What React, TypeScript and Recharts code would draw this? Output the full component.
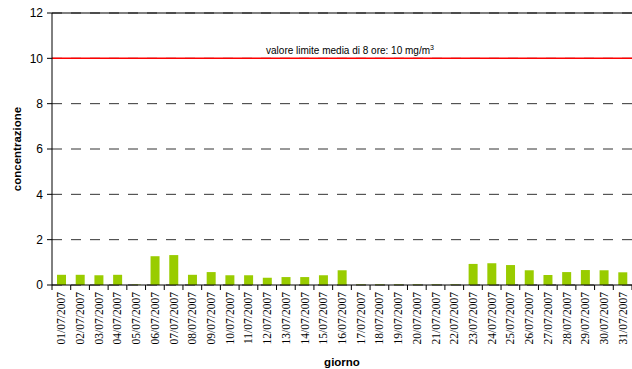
import React from "react";
import { BarChart, Bar, XAxis, YAxis, CartesianGrid, ReferenceLine } from "recharts";

const days = [
  "01/07/2007", "02/07/2007", "03/07/2007", "04/07/2007", "05/07/2007", "06/07/2007",
  "07/07/2007", "08/07/2007", "09/07/2007", "10/07/2007", "11/07/2007", "12/07/2007",
  "13/07/2007", "14/07/2007", "15/07/2007", "16/07/2007", "17/07/2007", "18/07/2007",
  "19/07/2007", "20/07/2007", "21/07/2007", "22/07/2007", "23/07/2007", "24/07/2007",
  "25/07/2007", "26/07/2007", "27/07/2007", "28/07/2007", "29/07/2007", "30/07/2007",
  "31/07/2007",
];
const concentrazione = [
  0.45, 0.45, 0.43, 0.45, 0.02, 1.27, 1.32, 0.45, 0.57, 0.43, 0.43, 0.32, 0.35, 0.35,
  0.43, 0.65, 0.02, 0.02, 0.02, 0.02, 0.02, 0.02, 0.93, 0.96, 0.88, 0.65, 0.44, 0.57,
  0.66, 0.65, 0.56,
];
const yTicks = [0, 2, 4, 6, 8, 10, 12];
const limitValue = 10;
const limitLabel = "valore limite media di 8 ore: 10 mg/m";

const data = days.map((d, i) => ({ day: d, value: concentrazione[i] }));

const W = 632;
const H = 369;
const Y_AXIS_W = 52;
const band = (W - Y_AXIS_W) / days.length;

const sans = "'Liberation Sans', Arial, sans-serif";
const serif = "'Liberation Serif', 'Times New Roman', serif";

const XTick = (props: any) => {
  const { x, y, payload, index } = props;
  const axisY = y - 7;
  return (
    <g>
      <line x1={x + band / 2} y1={axisY} x2={x + band / 2} y2={axisY + 5} stroke="#000" />
      {index === 0 ? (
        <line x1={x - band / 2} y1={axisY} x2={x - band / 2} y2={axisY + 5} stroke="#000" />
      ) : null}
      <text
        x={x}
        y={y}
        transform={`rotate(-90, ${x}, ${y})`}
        textAnchor="end"
        dy="0.35em"
        fontFamily={serif}
        fontSize={11.5}
        fill="#000"
      >
        {payload.value}
      </text>
    </g>
  );
};

const LimitLabel = (props: any) => {
  const vb = props.viewBox || {};
  const cx = vb.x + vb.width / 2 + 8;
  return (
    <text x={cx} y={vb.y - 4} textAnchor="middle" fontFamily={sans} fontSize={10} fill="#000">
      {limitLabel}
      <tspan dy={-4} fontSize={7}>3</tspan>
    </text>
  );
};

const YLabel = (props: any) => {
  const vb = props.viewBox || {};
  const x = vb.x + 17;
  const y = vb.y + vb.height / 2;
  return (
    <text
      x={x}
      y={y}
      transform={`rotate(-90, ${x}, ${y})`}
      textAnchor="middle"
      dy="0.35em"
      fontFamily={sans}
      fontSize={11.5}
      fontWeight="bold"
      fill="#000"
    >
      concentrazione
    </text>
  );
};

export default function App() {
  return (
    <div style={{ position: "absolute", left: 0, top: 0, width: W, height: H, background: "#fff" }}>
      <BarChart width={W} height={H} data={data} margin={{ top: 13, right: 0, bottom: 0, left: 0 }} barCategoryGap={0}>
        <CartesianGrid vertical={false} stroke="#333" strokeDasharray="10 9" />
        <XAxis
          dataKey="day"
          interval={0}
          height={84}
          tick={<XTick />}
          tickLine={false}
          tickSize={5}
          tickMargin={2}
          axisLine={{ stroke: "#000" }}
          label={{ value: "giorno", position: "insideBottom", offset: 3, fontFamily: sans, fontSize: 11.5, fontWeight: "bold", fill: "#000" }}
        />
        <YAxis
          width={Y_AXIS_W}
          domain={[0, 12]}
          ticks={yTicks}
          interval={0}
          tickSize={5}
          tickMargin={4}
          tick={{ fontFamily: sans, fontSize: 12, fill: "#000" }}
          axisLine={{ stroke: "#000" }}
          tickLine={{ stroke: "#000" }}
          label={<YLabel />}
        />
        <ReferenceLine y={12} stroke="#000" strokeWidth={1.2} />
        <ReferenceLine y={limitValue} stroke="#ff0000" strokeWidth={1.5} label={<LimitLabel />} />
        <Bar dataKey="value" fill="#99CC00" barSize={9} isAnimationActive={false} />
      </BarChart>
    </div>
  );
}
